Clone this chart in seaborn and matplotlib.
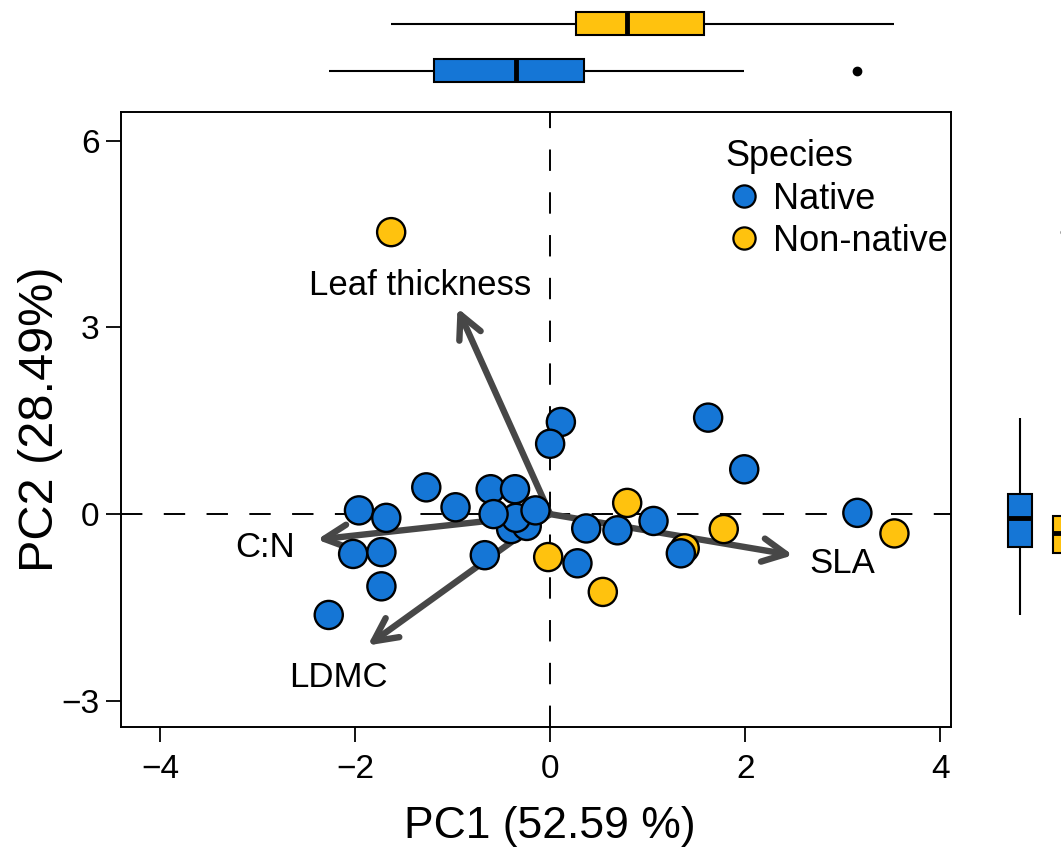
import numpy as np
import pandas as pd
import matplotlib
matplotlib.use("Agg")
import matplotlib.pyplot as plt
import seaborn as sns
from matplotlib.lines import Line2D

# ---------------- data ----------------
pc1 = [1.62, 1.99, 3.15, 0.11, 0.00, -1.27, -0.97, -1.96, -1.68, -2.02,
       -1.73, -1.73, -2.27, -0.40, -0.24, -0.67, -0.61, -0.36, -0.35, -0.58,
       -0.15, 0.37, 0.69, 1.06, 0.28,
       -1.63, 0.79, 1.78, 3.53, -0.02, 0.54, 1.38,
       1.34]
pc2 = [1.55, 0.72, 0.02, 1.48, 1.13, 0.43, 0.11, 0.06, -0.06, -0.64,
       -0.61, -1.16, -1.62, -0.24, -0.19, -0.66, 0.40, 0.40, -0.06, 0.00,
       0.06, -0.23, -0.26, -0.11, -0.79,
       4.53, 0.18, -0.24, -0.31, -0.69, -1.25, -0.55,
       -0.63]
species = ["Native"] * 25 + ["Non-native"] * 7 + ["Native"]

species_order = ["Native", "Non-native"]
species_colors = ["#1576D6", "#FFC20E"]

loading_names = ["SLA", "Leaf thickness", "C:N", "LDMC"]
loading_pc1 = [2.49, -0.95, -2.39, -1.87]
loading_pc2 = [-0.66, 3.31, -0.41, -2.11]
label_pc1 = [3.00, -1.33, -2.92, -2.17]
label_pc2 = [-0.79, 3.67, -0.53, -2.62]

x_ticks = [-4, -2, 0, 2, 4]
y_ticks = [-3, 0, 3, 6]
x_label = "PC1 (52.59 %)"
y_label = "PC2 (28.49%)"

df = pd.DataFrame({"PC1": pc1, "PC2": pc2, "Species": species})
pal = dict(zip(species_order, species_colors))

# ---------------- style ----------------
sns.set_style("ticks")
plt.rcParams["font.family"] = ["Liberation Sans", "DejaVu Sans"]
for key in ["text.color", "axes.labelcolor", "xtick.color", "ytick.color", "axes.edgecolor"]:
    plt.rcParams[key] = "black"

W, H = 1061, 848
fig = plt.figure(figsize=(W / 100, H / 100), dpi=100)


def px_axes(l, t, r, b):
    return fig.add_axes([l / W, 1 - b / H, (r - l) / W, (b - t) / H])


ax = px_axes(121, 112, 951, 727)
ax_top = px_axes(121, 0, 951, 94)
ax_right = px_axes(990, 112, 1110, 727)

xlim = (-4.40, 4.11)
ylim = (-3.42, 6.46)

# zero lines
ax.axhline(0, color="black", lw=1.4, dashes=(11, 11), zorder=1)
ax.axvline(0, color="black", lw=1.4, dashes=(11, 11), zorder=1)

# loading arrows
for name, lx, ly, tx, ty in zip(loading_names, loading_pc1, loading_pc2, label_pc1, label_pc2):
    ax.annotate("", xy=(lx, ly), xytext=(0, 0),
                arrowprops=dict(arrowstyle="->", color="#474747", lw=4.6,
                                mutation_scale=42, shrinkA=0, shrinkB=0),
                zorder=2)
    ax.text(tx, ty, name, ha="center", va="center", fontsize=25, color="black", zorder=5)

# points
sns.scatterplot(data=df, x="PC1", y="PC2", hue="Species", hue_order=species_order,
                palette=pal, s=410, edgecolor="black", linewidth=1.7,
                legend=False, ax=ax, zorder=4)

ax.set_xlim(*xlim)
ax.set_ylim(*ylim)
ax.set_xticks(x_ticks)
ax.set_yticks(y_ticks)
ax.tick_params(axis="both", labelsize=24, length=10.5, width=1.3, direction="out",
               color="black", labelcolor="black")
ax.tick_params(axis="x", pad=9)
ax.tick_params(axis="y", pad=5)
for sp in ax.spines.values():
    sp.set_visible(True)
    sp.set_linewidth(1.4)
    sp.set_color("black")
ax.set_xlabel(x_label, fontsize=32)
ax.set_ylabel(y_label, fontsize=35)
ax.xaxis.set_label_coords(0.517, -0.128)
ax.yaxis.set_label_coords(-0.07, 0.5)

handles = [Line2D([], [], marker="o", ls="", markersize=16, markerfacecolor=c,
                  markeredgecolor="black", markeredgewidth=1.6) for c in species_colors]
leg = ax.legend(handles, species_order, title="Species", loc="upper left",
                bbox_to_anchor=(0.707, 0.985), frameon=False, fontsize=26,
                title_fontsize=26, handlelength=1.0, handletextpad=0.3,
                labelspacing=0.2, borderpad=0, alignment="left")

# marginal boxplots
box_kws = dict(linewidth=1.5, linecolor="black", saturation=1, showcaps=False,
               medianprops=dict(linewidth=3.5, color="black"),
               whiskerprops=dict(linewidth=1.5, color="black"),
               flierprops=dict(marker="o", markerfacecolor="black",
                               markeredgecolor="black", markersize=6))

sns.boxplot(data=df, x="PC1", y="Species", hue="Species", order=["Non-native", "Native"],
            hue_order=species_order, palette=pal, orient="h", width=0.49, dodge=False,
            legend=False, ax=ax_top, **box_kws)
ax_top.set_xlim(*xlim)
ax_top.set_ylim(1.49, -0.51)
ax_top.axis("off")

sns.boxplot(data=df, x="Species", y="PC2", hue="Species", order=species_order,
            hue_order=species_order, palette=pal, orient="v", width=0.53, dodge=False,
            legend=False, ax=ax_right, **box_kws)
ax_right.set_ylim(*ylim)
ax_right.set_xlim(-0.667, 2.0)
ax_right.axis("off")

fig.savefig("out.png", dpi=100)
